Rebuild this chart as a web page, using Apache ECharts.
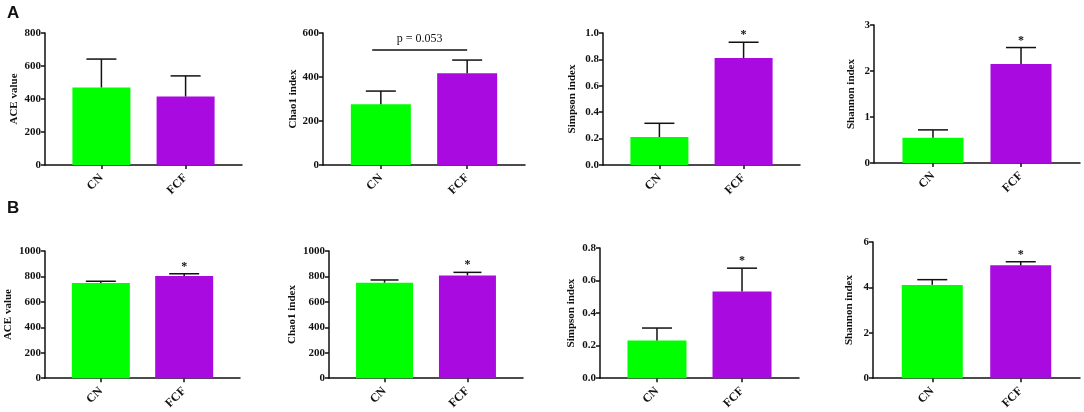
<!DOCTYPE html>
<html>
<head>
<meta charset="utf-8">
<script src="https://cdn.jsdelivr.net/npm/echarts@6/dist/echarts.min.js"></script>
<style>
    html, body {margin: 0; padding: 0; background: #fff;}
    #chart {width: 1084px; height: 412px;}
</style>
</head>
<body>
<div id="chart"></div>
<script>
// groups
var categories = ['CN', 'FCF'];

// row A: means and SD
var aceA = [470, 415];
var aceASd = [172, 125];
var chaoA = [276, 417];
var chaoASd = [60, 60];
var simpsonA = [0.212, 0.81];
var simpsonASd = [0.104, 0.12];
var shannonA = [0.55, 2.15];
var shannonASd = [0.17, 0.36];

// row B: means and SD
var aceB = [749, 803];
var aceBSd = [13, 18];
var chaoB = [751, 808];
var chaoBSd = [21, 24];
var simpsonB = [0.231, 0.533];
var simpsonBSd = [0.077, 0.143];
var shannonB = [4.11, 4.97];
var shannonBSd = [0.23, 0.16];

// significance marks (1 = *)
var starsA = [[0, 0], [0, 0], [0, 1], [0, 1]];
var starsB = [[0, 1], [0, 1], [0, 1], [0, 1]];
var pValueText = 'p = 0.053';
var pValueLevel = 523;

// axis names and ticks
var yNames = ['ACE value', 'Chao1 index', 'Simpson index', 'Shannon index'];
var yMaxA = [800, 600, 1.0, 3];
var yStepA = [200, 200, 0.2, 1];
var yMaxB = [1000, 1000, 0.8, 6];
var yStepB = [200, 200, 0.2, 2];

var barColors = ['#00ff00', '#a80ae0'];
var serif = 'Liberation Serif';

// grid boxes in pixels: left, top, width, height, name gap
var boxes = [
    [45, 33, 197, 132, 25],
    [323, 33, 202, 132, 21],
    [603, 33, 197, 132, 25],
    [874, 25, 206, 138, 17],
    [45, 251, 195, 128, 31],
    [329, 251, 194, 128, 31],
    [600, 248, 199, 132, 23],
    [873, 242, 207, 138, 18]
];

var panels = [
    {mean: aceA, sd: aceASd, stars: starsA[0], name: yNames[0], max: yMaxA[0], step: yStepA[0]},
    {mean: chaoA, sd: chaoASd, stars: starsA[1], name: yNames[1], max: yMaxA[1], step: yStepA[1], p: true},
    {mean: simpsonA, sd: simpsonASd, stars: starsA[2], name: yNames[2], max: yMaxA[2], step: yStepA[2], dec: 1},
    {mean: shannonA, sd: shannonASd, stars: starsA[3], name: yNames[3], max: yMaxA[3], step: yStepA[3]},
    {mean: aceB, sd: aceBSd, stars: starsB[0], name: yNames[0], max: yMaxB[0], step: yStepB[0]},
    {mean: chaoB, sd: chaoBSd, stars: starsB[1], name: yNames[1], max: yMaxB[1], step: yStepB[1]},
    {mean: simpsonB, sd: simpsonBSd, stars: starsB[2], name: yNames[2], max: yMaxB[2], step: yStepB[2], dec: 1},
    {mean: shannonB, sd: shannonBSd, stars: starsB[3], name: yNames[3], max: yMaxB[3], step: yStepB[3]}
];

function makeErrorRender(capHalf) {
    return function (params, api) {
        var x = api.value(0);
        var v = api.value(1);
        var sd = api.value(2);
        var star = api.value(3);
        var base = api.coord([x, v]);
        var top = api.coord([x, v + sd]);
        var children = [{
            type: 'line',
            shape: {x1: base[0], y1: base[1], x2: top[0], y2: top[1]},
            style: {stroke: '#111', lineWidth: 1.5}
        }, {
            type: 'line',
            shape: {x1: top[0] - capHalf, y1: top[1], x2: top[0] + capHalf, y2: top[1]},
            style: {stroke: '#111', lineWidth: 1.5}
        }];
        if (star) {
            children.push({
                type: 'text',
                style: {
                    text: '*', x: top[0], y: top[1] - 1,
                    align: 'center', verticalAlign: 'bottom',
                    font: 'bold 12px "' + serif + '"', fill: '#111'
                }
            });
        }
        return {type: 'group', children: children};
    };
}

var grid = [], xAxis = [], yAxis = [], series = [];
for (var i = 0; i < panels.length; i++) {
    var p = panels[i];
    var b = boxes[i];
    var barWidth = Math.round(b[2] * 0.295);
    grid.push({left: b[0], top: b[1], width: b[2], height: b[3]});
    xAxis.push({
        type: 'value', gridIndex: i, min: -0.67, max: 1.67,
        splitLine: {show: false},
        axisLine: {show: true, onZero: false, lineStyle: {color: '#111', width: 1.5}},
        axisTick: {show: true, customValues: [0, 1], length: 4, lineStyle: {color: '#111', width: 1.5}},
        axisLabel: {
            customValues: [0, 1], rotate: 45, margin: 11,
            fontFamily: serif, fontWeight: 'bold', fontSize: 12, color: '#111',
            formatter: function (val) { return categories[Math.round(val)]; }
        }
    });
    yAxis.push({
        type: 'value', gridIndex: i, min: 0, max: p.max, interval: p.step,
        name: p.name, nameLocation: 'middle', nameGap: b[4],
        nameTextStyle: {fontFamily: serif, fontWeight: 'bold', fontSize: 11, color: '#111'},
        splitLine: {show: false},
        axisLine: {show: true, onZero: false, lineStyle: {color: '#111', width: 1.5}},
        axisTick: {show: true, length: 4, lineStyle: {color: '#111', width: 1.5}},
        axisLabel: {
            fontFamily: serif, fontWeight: 'bold', fontSize: 11, color: '#111', margin: 4,
            formatter: (function (dec) {
                return function (val) { return dec ? val.toFixed(dec) : String(val); };
            })(p.dec)
        }
    });
    var barData = [], errData = [];
    for (var k = 0; k < categories.length; k++) {
        barData.push({value: [k, p.mean[k]], itemStyle: {color: barColors[k]}});
        errData.push([k, p.mean[k], p.sd[k], p.stars[k]]);
    }
    var bar = {
        type: 'bar', xAxisIndex: i, yAxisIndex: i, data: barData,
        barWidth: barWidth, silent: true, z: 2
    };
    if (p.p) {
        bar.markLine = {
            silent: true, symbol: 'none',
            lineStyle: {color: '#111', width: 1.5, type: 'solid'},
            label: {
                show: true, position: 'middle', formatter: pValueText, distance: 5,
                fontFamily: serif, fontSize: 12, color: '#111'
            },
            data: [[{coord: [-0.1, pValueLevel]}, {coord: [1, pValueLevel]}]]
        };
    }
    series.push(bar);
    series.push({
        type: 'custom', xAxisIndex: i, yAxisIndex: i, data: errData,
        renderItem: makeErrorRender(Math.round(barWidth / 4)), silent: true, z: 3
    });
}

var chart = echarts.init(document.getElementById('chart'));
chart.setOption({
    animation: false,
    backgroundColor: '#fff',
    grid: grid,
    xAxis: xAxis,
    yAxis: yAxis,
    series: series,
    graphic: [
        {type: 'text', left: 7, top: 5, style: {text: 'A', font: 'bold 17px "Liberation Sans"', fill: '#111'}},
        {type: 'text', left: 7, top: 200, style: {text: 'B', font: 'bold 17px "Liberation Sans"', fill: '#111'}}
    ]
});
</script>
</body>
</html>
